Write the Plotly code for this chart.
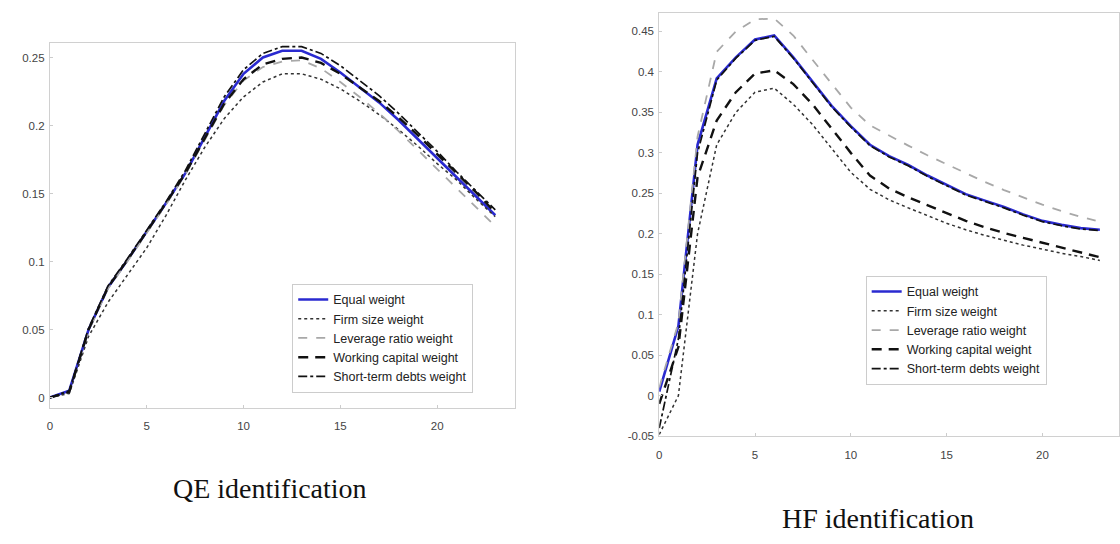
import plotly.graph_objects as go

quarters = list(range(24))

# QE identification
qe_equal = [0, 0.005, 0.05, 0.081, 0.101, 0.122, 0.143, 0.165, 0.192, 0.218, 0.238, 0.250, 0.255,
            0.255, 0.249, 0.239, 0.228, 0.217, 0.204, 0.190, 0.176, 0.162, 0.148, 0.134]
qe_firm = [0, 0.003, 0.045, 0.070, 0.090, 0.110, 0.134, 0.160, 0.184, 0.205, 0.221, 0.232, 0.238,
           0.238, 0.234, 0.227, 0.218, 0.208, 0.197, 0.185, 0.172, 0.160, 0.146, 0.133]
qe_lev = [0, 0.004, 0.049, 0.080, 0.100, 0.121, 0.142, 0.164, 0.190, 0.215, 0.233, 0.243, 0.247,
          0.248, 0.242, 0.232, 0.221, 0.209, 0.196, 0.182, 0.168, 0.154, 0.140, 0.126]
qe_wc = [0, 0.004, 0.050, 0.081, 0.101, 0.122, 0.143, 0.165, 0.191, 0.216, 0.234, 0.245, 0.249,
         0.250, 0.246, 0.238, 0.228, 0.218, 0.206, 0.193, 0.179, 0.165, 0.151, 0.136]
qe_std = [0, 0.005, 0.051, 0.082, 0.102, 0.123, 0.144, 0.167, 0.194, 0.221, 0.241, 0.253, 0.258,
          0.258, 0.253, 0.244, 0.233, 0.222, 0.209, 0.195, 0.181, 0.166, 0.152, 0.138]

# HF identification
hf_equal = [0.005, 0.086, 0.310, 0.392, 0.418, 0.440, 0.445, 0.418, 0.388, 0.358, 0.333, 0.310,
            0.296, 0.285, 0.272, 0.260, 0.249, 0.241, 0.233, 0.224, 0.216, 0.211, 0.207, 0.205]
hf_firm = [-0.048, 0.000, 0.200, 0.310, 0.350, 0.375, 0.380, 0.360, 0.335, 0.305, 0.276, 0.255,
           0.242, 0.232, 0.222, 0.213, 0.205, 0.198, 0.192, 0.186, 0.181, 0.176, 0.172, 0.167]
hf_lev = [0.010, 0.090, 0.320, 0.425, 0.450, 0.465, 0.466, 0.445, 0.415, 0.385, 0.356, 0.334,
          0.321, 0.309, 0.297, 0.286, 0.274, 0.264, 0.254, 0.245, 0.236, 0.228, 0.221, 0.215]
hf_wc = [-0.010, 0.060, 0.270, 0.340, 0.375, 0.398, 0.402, 0.385, 0.360, 0.330, 0.300, 0.272,
         0.256, 0.245, 0.235, 0.226, 0.216, 0.208, 0.201, 0.195, 0.189, 0.183, 0.177, 0.171]
hf_std = [-0.040, 0.070, 0.300, 0.390, 0.417, 0.439, 0.444, 0.417, 0.387, 0.357, 0.332, 0.309,
          0.295, 0.284, 0.271, 0.259, 0.248, 0.240, 0.232, 0.223, 0.215, 0.210, 0.206, 0.204]

names = ["Equal weight", "Firm size weight", "Leverage ratio weight",
         "Working capital weight", "Short-term debts weight"]
qe_ticks_y = [0, 0.05, 0.1, 0.15, 0.2, 0.25]
qe_ticktext_y = ["0", "0.05", "0.1", "0.15", "0.2", "0.25"]
hf_ticks_y = [-0.05, 0, 0.05, 0.1, 0.15, 0.2, 0.25, 0.3, 0.35, 0.4, 0.45]
hf_ticktext_y = ["-0.05", "0", "0.05", "0.1", "0.15", "0.2", "0.25", "0.3", "0.35", "0.4", "0.45"]
x_ticks = [0, 5, 10, 15, 20]

styles = [
    dict(color="#2a2ad0", width=2.6, dash="solid"),
    dict(color="#333333", width=1.5, dash="dot"),
    dict(color="#a8a8a8", width=1.8, dash="dash"),
    dict(color="#111111", width=2.4, dash="10px,7px"),
    dict(color="#111111", width=1.7, dash="dashdot"),
]

fig = go.Figure()
qe_series = [qe_equal, qe_firm, qe_lev, qe_wc, qe_std]
hf_series = [hf_equal, hf_firm, hf_lev, hf_wc, hf_std]
for i in range(5):
    fig.add_trace(go.Scatter(x=quarters, y=qe_series[i], mode="lines", name=names[i],
                             line=styles[i], xaxis="x", yaxis="y", legend="legend",
                             legendrank=i + 1))
for i in range(5):
    fig.add_trace(go.Scatter(x=quarters, y=hf_series[i], mode="lines", name=names[i],
                             line=styles[i], xaxis="x2", yaxis="y2", legend="legend2",
                             legendrank=i + 1))

axis_common = dict(showline=True, mirror=True, linecolor="#d0d0d0", linewidth=1,
                   showgrid=False, zeroline=False, ticks="inside", ticklen=3,
                   tickcolor="#cccccc", tickfont=dict(family="Liberation Sans", size=11.5, color="#444444"))

W, H = 1120, 544
fig.update_layout(
    width=W, height=H, margin=dict(l=0, r=0, t=0, b=0),
    paper_bgcolor="white", plot_bgcolor="white", showlegend=True,
    xaxis=dict(domain=[47 / W, 513 / W], range=[0, 24], tickvals=x_ticks, anchor="y",
               ticklabelstandoff=7, **axis_common),
    yaxis=dict(domain=[1 - 413 / H, 1 - 43 / H], range=[-0.008, 0.261], tickvals=qe_ticks_y,
               ticktext=qe_ticktext_y, anchor="x", ticklabelstandoff=2, **axis_common),
    xaxis2=dict(domain=[658 / W, 1119 / W], range=[0, 24], tickvals=x_ticks, anchor="y2",
                ticklabelstandoff=8, **axis_common),
    yaxis2=dict(domain=[1 - 441 / H, 1 - 13 / H], range=[-0.05, 0.473], tickvals=hf_ticks_y,
                ticktext=hf_ticktext_y, anchor="x2", ticklabelstandoff=2, **axis_common),
    legend=dict(x=290 / W, y=1 - 287 / H, xanchor="left", yanchor="top", bgcolor="white",
                bordercolor="#cccccc", borderwidth=1, itemwidth=30, tracegroupgap=0,
                font=dict(family="Liberation Sans", size=12.5, color="#222222")),
    legend2=dict(x=865 / W, y=1 - 279 / H, xanchor="left", yanchor="top", bgcolor="white",
                 bordercolor="#cccccc", borderwidth=1, itemwidth=30, tracegroupgap=0,
                 font=dict(family="Liberation Sans", size=12.5, color="#222222")),
    annotations=[
        dict(text="QE identification", x=268 / W, y=1 - 494 / H, xref="paper", yref="paper",
             xanchor="center", yanchor="middle",
             showarrow=False, font=dict(family="Liberation Serif", size=28, color="#111111")),
        dict(text="HF identification", x=877 / W, y=1 - 524 / H, xref="paper", yref="paper",
             xanchor="center", yanchor="middle",
             showarrow=False, font=dict(family="Liberation Serif", size=28, color="#111111")),
    ],
)

fig.write_html("out.html")
